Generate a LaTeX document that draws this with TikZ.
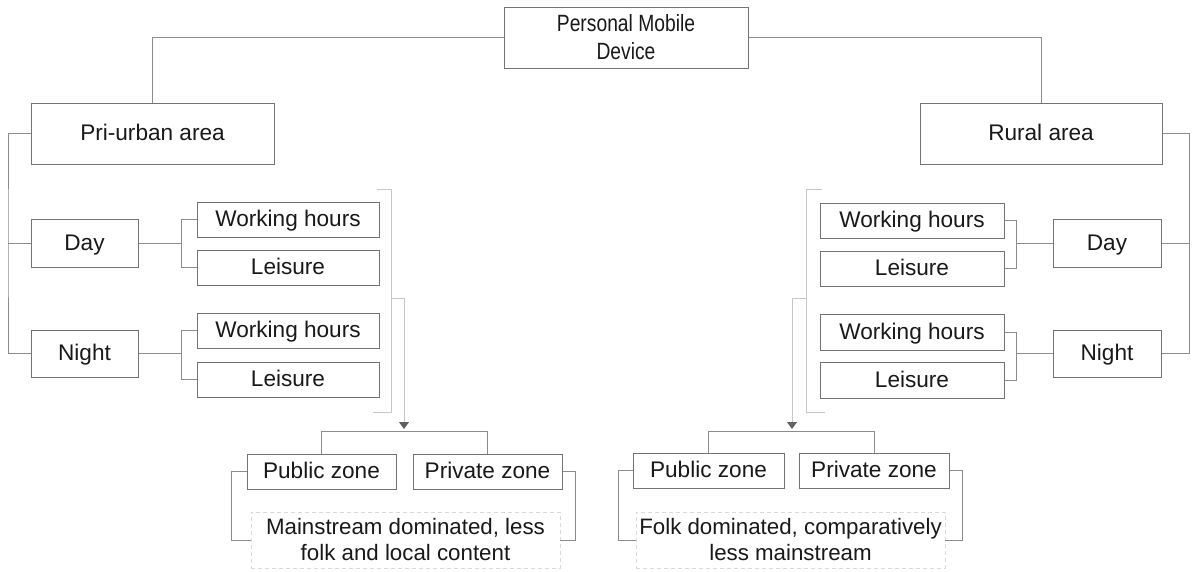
\documentclass[tikz,border=0pt]{standalone}
\usepackage{fontspec}
\setmainfont{Liberation Sans}
\newfontfamily\narrowsans[FakeStretch=0.82]{Liberation Sans}
\usetikzlibrary{arrows.meta}
\begin{document}
\begin{tikzpicture}[x=1pt,y=-1pt,
  box/.style={draw=black!55, line width=1pt, fill=white, inner sep=0pt,
    font=\fontsize{22.6}{26}\selectfont, text=black!90,
    text height=15pt, text depth=1pt},
  link/.style={draw=black!45, line width=0.9pt},
  faint/.style={draw=black!22, line width=0.9pt},
  note/.style={draw=black!15, dash pattern=on 4pt off 3pt, line width=0.8pt,
    inner sep=0pt, align=center, font=\fontsize{22.3}{26}\selectfont, text=black!90},
  down/.style={-{Triangle[width=10pt,length=7pt,color=black!62]}}]
\useasboundingbox[fill=white] (0,0) rectangle (1197,571);

% root and the two areas
\node[box, minimum width=244pt, minimum height=61pt, align=center,
  text height=, text depth=,
  font=\narrowsans\fontsize{23.5}{28}\selectfont] (root) at (626,37.5) {Personal Mobile\\Device};
\node[box, minimum width=243pt, minimum height=61pt] (peri) at (152.5,133.5) {Pri-urban area};
\node[box, minimum width=242pt, minimum height=61pt] (rural) at (1041,133.5) {Rural area};

% left branch: day / night and their activities
\node[box, minimum width=107pt, minimum height=48pt] (dayL) at (84.5,243) {Day};
\node[box, minimum width=107pt, minimum height=47pt] (nightL) at (84.5,353.5) {Night};
\node[box, minimum width=182pt, minimum height=35pt] (workLa) at (288,219.5) {Working hours};
\node[box, minimum width=182pt, minimum height=35pt] (leisLa) at (288,267.5) {Leisure};
\node[box, minimum width=182pt, minimum height=35pt] (workLb) at (288,330.5) {Working hours};
\node[box, minimum width=182pt, minimum height=35pt] (leisLb) at (288,379.5) {Leisure};

% right branch: day / night and their activities
\node[box, minimum width=108pt, minimum height=48pt] (dayR) at (1107,243) {Day};
\node[box, minimum width=108pt, minimum height=47pt] (nightR) at (1107,353.5) {Night};
\node[box, minimum width=184pt, minimum height=35pt] (workRa) at (912,220.5) {Working hours};
\node[box, minimum width=184pt, minimum height=35pt] (leisRa) at (912,268.5) {Leisure};
\node[box, minimum width=184pt, minimum height=36pt] (workRb) at (912,332) {Working hours};
\node[box, minimum width=184pt, minimum height=36pt] (leisRb) at (912,380) {Leisure};

% zones and outcomes
\node[box, minimum width=149pt, minimum height=35pt] (pubL) at (321.5,471.5) {Public zone};
\node[box, minimum width=149pt, minimum height=35pt] (privL) at (487.5,471.5) {Private zone};
\node[box, minimum width=151pt, minimum height=35pt] (pubR) at (708.5,470.5) {Public zone};
\node[box, minimum width=150pt, minimum height=35pt] (privR) at (874,470.5) {Private zone};
\node[note, minimum width=309pt, minimum height=56pt] (outL) at (405.5,540)
  {Mainstream dominated, less\\folk and local content};
\node[note, minimum width=309pt, minimum height=56pt] (outR) at (790.5,540)
  {Folk dominated, comparatively\\less mainstream};

% root to areas
\draw[link] (root.west) -| (peri.north);
\draw[link] (root.east) -| (rural.north);

% area to day / night
\coordinate (spL) at (8,243);
\coordinate (spR) at (1189,243);
\draw[link] (peri.west) -| (spL) |- (nightL.west);
\draw[link] (spL) -- (dayL.west);
\draw[link] (rural.east) -| (spR) |- (nightR.east);
\draw[link] (spR) -- (dayR.east);

% day / night to activities (left)
\draw[link] (workLa.west) -- ++(-15,0) |- (leisLa.west);
\draw[link] (dayL.east) -- (dayL.east -| 182,0);
\draw[link] (workLb.west) -- ++(-15,0) |- (leisLb.west);
\draw[link] (nightL.east) -- (nightL.east -| 182,0);

% day / night to activities (right)
\draw[link] (workRa.east) -- ++(12,0) |- (leisRa.east);
\draw[link] (dayR.west) -- (dayR.west -| 1016,0);
\draw[link] (workRb.east) -- ++(12,0) |- (leisRb.east);
\draw[link] (nightR.west) -- (nightR.west -| 1016,0);

% brackets gathering the activities, arrows down to the zones
\coordinate (brL) at (391,298);
\coordinate (brR) at (806,298);
\draw[faint] (377,189) -- (391,189) -- (391,412) -- (373,412);
\draw[faint] (822,189) -- (806,189) -- (806,412) -- (825,412);
\draw[faint, down] (brL) -- (404,298) -- (404,429);
\draw[faint, down] (brR) -- (792,298) -- (792,429);

% zone pairs
\draw[link] (pubL.north) -- ++(0,-22) -| (privL.north);
\draw[link] (pubR.north) -- ++(0,-21) -| (privR.north);

% zones to outcomes
\draw[link] (pubL.west) -- ++(-15,0) |- (outL.west);
\draw[link] (privL.east) -- ++(13,0) |- (outL.east);
\draw[link] (pubR.west) -- ++(-14,0) |- (outR.west);
\draw[link] (privR.east) -- ++(13,0) |- (outR.east);
\end{tikzpicture}
\end{document}
